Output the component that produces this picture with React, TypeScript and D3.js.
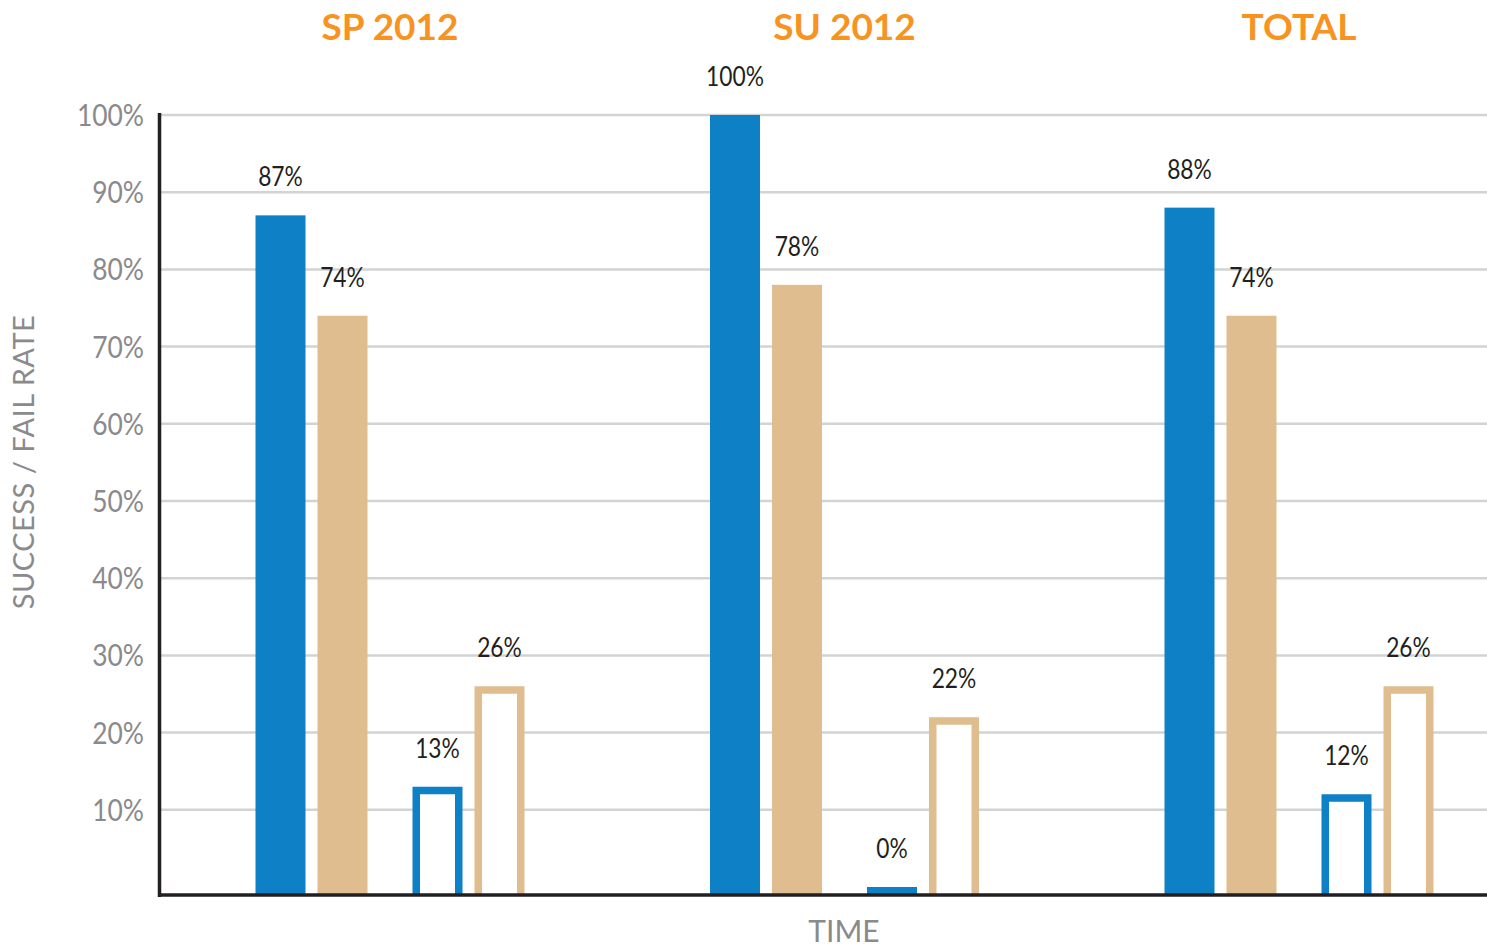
import React from "react";
import * as d3 from "d3";

// terms shown as group titles
const groups = ["SP 2012", "SU 2012", "TOTAL"];

// success / fail rates per term (percent)
const blueSuccess = [87, 100, 88];
const tanSuccess = [74, 78, 74];
const blueFail = [13, 0, 12];
const tanFail = [26, 22, 26];

const yTicks = [10, 20, 30, 40, 50, 60, 70, 80, 90, 100];

const BLUE = "#0e80c5";
const TAN = "#dfbd8f";
const ORANGE = "#f7931e";
const GRAY = "#8a8a8d";
const INK = "#231f20";

const W = 1487;
const H = 945;

const font = "Lato, 'Noto Sans', sans-serif";

export default function App() {
  const y = d3.scaleLinear().domain([0, 100]).range([887, 115]);
  const baseline = 895;

  // group centres
  const xGroup = d3.scalePoint<string>().domain(groups).range([390, 1299]);
  const groupWidth = 269;

  // success pair / fail pair inside a group, then blue / tan inside a pair
  const xPair = d3.scaleBand<string>().domain(["success", "fail"]).range([0, groupWidth]).paddingInner(0.2866);
  const xColor = d3.scaleBand<string>().domain(["blue", "tan"]).range([0, xPair.bandwidth()]).paddingInner(0.1935);
  const bw = xColor.bandwidth();

  const series = [
    { pair: "success", color: "blue", fill: BLUE, values: blueSuccess, hollow: false },
    { pair: "success", color: "tan", fill: TAN, values: tanSuccess, hollow: false },
    { pair: "fail", color: "blue", fill: BLUE, values: blueFail, hollow: true },
    { pair: "fail", color: "tan", fill: TAN, values: tanFail, hollow: true },
  ];

  const sw = 7.5;

  return (
    <svg width={W} height={H} style={{ position: "absolute", left: 0, top: 0, background: "#fff" }}>
      {/* grid */}
      {yTicks.map((t) => (
        <g key={t}>
          <line x1={161} x2={W} y1={y(t)} y2={y(t)} stroke="#d2d3d5" strokeWidth={2.5} />
          <text
            transform={`translate(144,${y(t) + 11}) scale(0.88,1)`}
            textAnchor="end"
            fontFamily={font}
            fontSize={30}
            fill={GRAY}
          >
            {t}%
          </text>
        </g>
      ))}

      {/* bars */}
      {groups.map((g, gi) => {
        const gx = (xGroup(g) as number) - groupWidth / 2;
        return (
          <g key={g}>
            <text x={xGroup(g)} y={40} textAnchor="middle" fontFamily={font} fontWeight={700} fontSize={37} fill={ORANGE}>
              {g}
            </text>
            {series.map((s) => {
              const v = s.values[gi];
              const x0 = gx + (xPair(s.pair) as number) + (xColor(s.color) as number);
              const top = y(v);
              const hollowPath = d3.path();
              hollowPath.moveTo(x0 + sw / 2, baseline);
              hollowPath.lineTo(x0 + sw / 2, top + sw / 2);
              hollowPath.lineTo(x0 + bw - sw / 2, top + sw / 2);
              hollowPath.lineTo(x0 + bw - sw / 2, baseline);
              return (
                <g key={s.pair + s.color}>
                  {s.hollow ? (
                    <path d={hollowPath.toString()} fill="#fff" stroke={s.fill} strokeWidth={sw} strokeLinejoin="miter" />
                  ) : (
                    <rect x={x0} y={top} width={bw} height={baseline - top} fill={s.fill} />
                  )}
                  <text
                    transform={`translate(${x0 + bw / 2},${top - 29}) scale(0.86,1)`}
                    textAnchor="middle"
                    fontFamily={font}
                    fontSize={26.5}
                    fill={INK}
                  >
                    {v}%
                  </text>
                </g>
              );
            })}
          </g>
        );
      })}

      {/* axes */}
      <line x1={159.5} x2={159.5} y1={113} y2={897} stroke={INK} strokeWidth={3.5} />
      <line x1={158} x2={W} y1={baseline} y2={baseline} stroke={INK} strokeWidth={3.5} />

      <text
        transform="translate(34,462) rotate(-90)"
        textAnchor="middle"
        fontFamily={font}
        fontSize={29}
        letterSpacing={0.5}
        fill={GRAY}
      >
        SUCCESS / FAIL RATE
      </text>
      <text x={844} y={942} textAnchor="middle" fontFamily={font} fontSize={30} fill={GRAY}>
        TIME
      </text>
    </svg>
  );
}
